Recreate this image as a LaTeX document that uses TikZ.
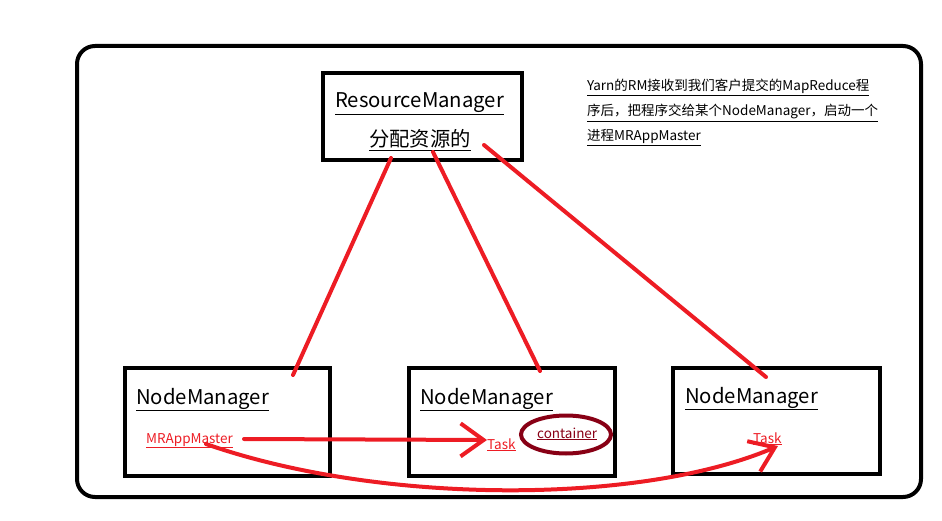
\documentclass[tikz,border=0pt]{standalone}
\usepackage{fontspec}
\setmainfont{Noto Sans CJK SC}
\usetikzlibrary{positioning, calc, arrows.meta}

\definecolor{paintred}{HTML}{ED1C24}
\definecolor{paintdark}{HTML}{880015}

\tikzset{
    box/.style={draw=black, line width=4pt, inner sep=0pt},
    redline/.style={draw=paintred, line width=4pt, line cap=round},
    bigtxt/.style={anchor=base west, inner sep=0pt, font=\fontsize{20.3}{23}\selectfont},
    smalltxt/.style={anchor=base west, inner sep=0pt, font=\fontsize{13.5}{16}\selectfont},
    barb/.style={-{Straight Barb[length=23pt, width=33pt, line width=4pt]}}
}

\begin{document}
\begin{tikzpicture}[x=1pt, y=-1pt]
    \useasboundingbox (0,0) rectangle (942,521);
    % outer frame
    \draw[line width=4pt, rounded corners=18pt] (77,46) rectangle (921,497);

    % boxes
    \node[box, minimum width=199pt, minimum height=87pt] (rm) at (422.5,116.5) {};
    \node[box, minimum width=205pt, minimum height=108pt] (nm1) at (227.5,422) {};
    \node[box, minimum width=206pt, minimum height=108pt] (nm2) at (512,422) {};
    \node[box, minimum width=207pt, minimum height=106pt] (nm3) at (776.5,421) {};

    % labels
    \node[bigtxt] (rmtitle) at (335,108) {\underline{ResourceManager}};
    \node[bigtxt] (rmsub) at (369,147) {\underline{分配资源的}};
    \node[bigtxt] (nm1title) at (136,404) {\underline{NodeManager}};
    \node[bigtxt] (nm2title) at (420,404) {\underline{NodeManager}};
    \node[bigtxt] (nm3title) at (685,403) {\underline{NodeManager}};
    \node[smalltxt, text=paintred] (master) at (146,443) {\underline{MRAppMaster}};
    \node[smalltxt, text=paintred] (task2) at (487,449) {\underline{Task}};
    \node[smalltxt, text=paintred] (task3) at (753,443) {\underline{Task}};
    \node[smalltxt, text=paintdark] (cont) at (537,438) {\underline{container}};
    \draw[paintdark, line width=4pt] (566,434.5) ellipse (45pt and 19pt);

    % note
    \node[smalltxt] (note1) at (587,91) {\underline{Yarn的RM接收到我们客户提交的MapReduce程}};
    \node[smalltxt] (note2) at (587,116) {\underline{序后，把程序交给某个NodeManager，启动一个}};
    \node[smalltxt] (note3) at (587,141) {\underline{进程MRAppMaster}};

    % RM to the node managers
    \draw[redline] ([xshift=-31.5pt, yshift=4pt]rm.south) -- ([xshift=65.5pt, yshift=-9pt]nm1.north);
    \draw[redline] ([xshift=10.5pt, yshift=10pt]rm.south) -- ([xshift=28pt, yshift=-5pt]nm2.north);
    \draw[redline] ([xshift=61.5pt, yshift=17pt]rm.south) -- ([xshift=-10.5pt, yshift=-11pt]nm3.north);

    % MRAppMaster to the tasks
    \draw[redline, barb] ([xshift=11pt, yshift=4pt]master.base east) -- ([yshift=9pt]task2.base west);
    \draw[redline, barb] ([xshift=60pt, yshift=-1pt]master.base west) .. controls (380,505) and (640,505) .. ([xshift=25pt, yshift=-3pt]task3.base west);
\end{tikzpicture}
\end{document}
